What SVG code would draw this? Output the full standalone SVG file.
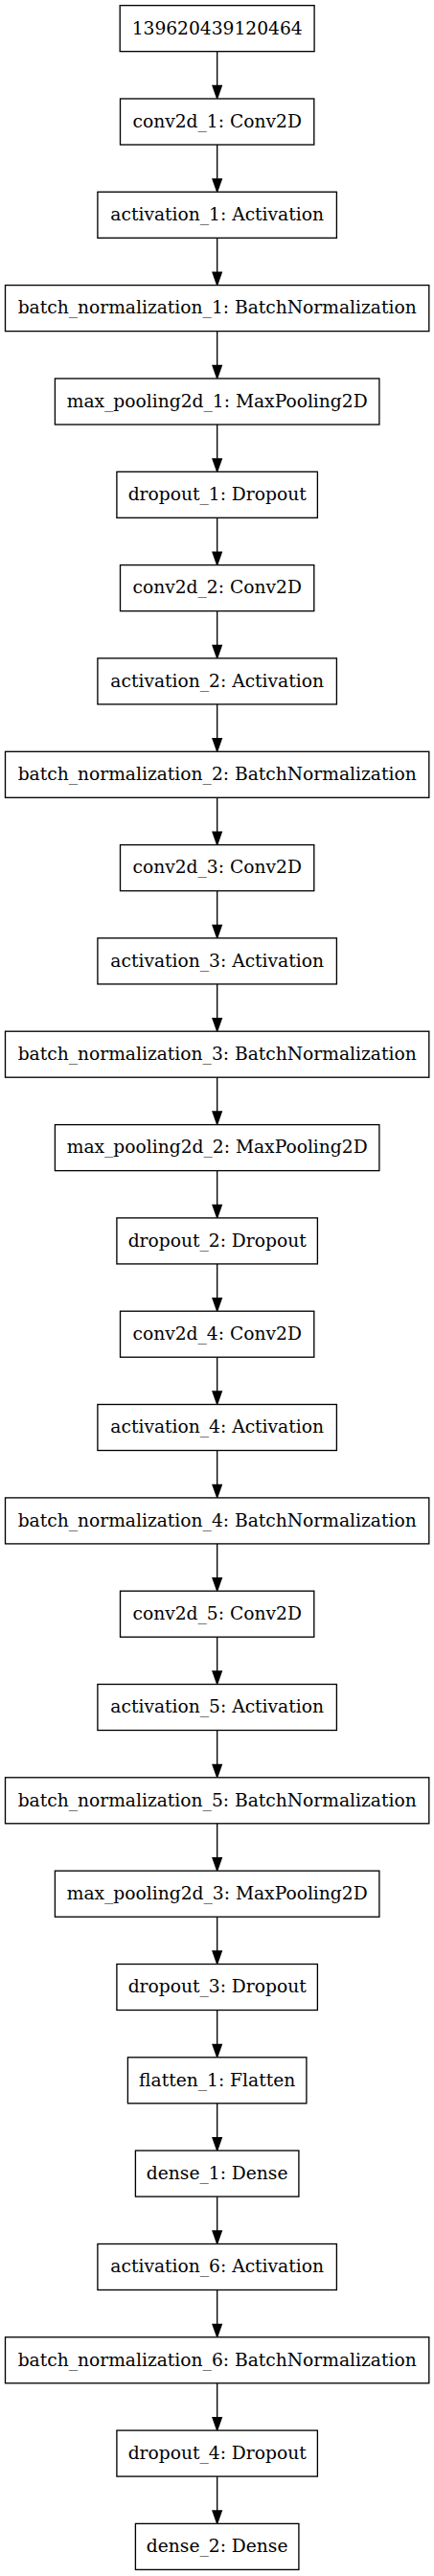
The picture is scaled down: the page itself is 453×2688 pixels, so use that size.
<svg xmlns="http://www.w3.org/2000/svg" width="453" height="2688" viewBox="0 0 453 2688">
<style>
.n rect{fill:#fff;stroke:#000;stroke-width:1.33}
.n text{font-family:"DejaVu Serif",serif;font-size:18.67px;text-anchor:middle;fill:#000}
.e line{stroke:#000;stroke-width:1.33}
.e path{fill:#000;stroke:#000;stroke-width:1.33}
</style>
<rect width="453" height="2688" fill="#fff"/>
<g class="e">
<line x1="226.67" y1="53.67" x2="226.67" y2="89.5"/><path d="M222,89.5 L231.33,89.5 L226.67,102.8 Z"/>
<line x1="226.67" y1="151" x2="226.67" y2="186.8"/><path d="M222,186.8 L231.33,186.8 L226.67,200.1 Z"/>
<line x1="226.67" y1="248.3" x2="226.67" y2="284.1"/><path d="M222,284.1 L231.33,284.1 L226.67,297.4 Z"/>
<line x1="226.67" y1="345.6" x2="226.67" y2="381.4"/><path d="M222,381.4 L231.33,381.4 L226.67,394.7 Z"/>
<line x1="226.67" y1="443" x2="226.67" y2="478.8"/><path d="M222,478.8 L231.33,478.8 L226.67,492.1 Z"/>
<line x1="226.67" y1="540.3" x2="226.67" y2="576.1"/><path d="M222,576.1 L231.33,576.1 L226.67,589.4 Z"/>
<line x1="226.67" y1="637.6" x2="226.67" y2="673.4"/><path d="M222,673.4 L231.33,673.4 L226.67,686.7 Z"/>
<line x1="226.67" y1="734.9" x2="226.67" y2="770.7"/><path d="M222,770.7 L231.33,770.7 L226.67,784 Z"/>
<line x1="226.67" y1="832.3" x2="226.67" y2="868.1"/><path d="M222,868.1 L231.33,868.1 L226.67,881.4 Z"/>
<line x1="226.67" y1="929.6" x2="226.67" y2="965.4"/><path d="M222,965.4 L231.33,965.4 L226.67,978.7 Z"/>
<line x1="226.67" y1="1026.9" x2="226.67" y2="1062.7"/><path d="M222,1062.7 L231.33,1062.7 L226.67,1076 Z"/>
<line x1="226.67" y1="1124.2" x2="226.67" y2="1160"/><path d="M222,1160 L231.33,1160 L226.67,1173.3 Z"/>
<line x1="226.67" y1="1221.6" x2="226.67" y2="1257.4"/><path d="M222,1257.4 L231.33,1257.4 L226.67,1270.7 Z"/>
<line x1="226.67" y1="1318.9" x2="226.67" y2="1354.7"/><path d="M222,1354.7 L231.33,1354.7 L226.67,1368 Z"/>
<line x1="226.67" y1="1416.2" x2="226.67" y2="1452"/><path d="M222,1452 L231.33,1452 L226.67,1465.3 Z"/>
<line x1="226.67" y1="1513.5" x2="226.67" y2="1549.3"/><path d="M222,1549.3 L231.33,1549.3 L226.67,1562.6 Z"/>
<line x1="226.67" y1="1610.9" x2="226.67" y2="1646.7"/><path d="M222,1646.7 L231.33,1646.7 L226.67,1660 Z"/>
<line x1="226.67" y1="1708.2" x2="226.67" y2="1744"/><path d="M222,1744 L231.33,1744 L226.67,1757.3 Z"/>
<line x1="226.67" y1="1805.5" x2="226.67" y2="1841.3"/><path d="M222,1841.3 L231.33,1841.3 L226.67,1854.6 Z"/>
<line x1="226.67" y1="1902.8" x2="226.67" y2="1938.6"/><path d="M222,1938.6 L231.33,1938.6 L226.67,1951.9 Z"/>
<line x1="226.67" y1="2000.2" x2="226.67" y2="2036"/><path d="M222,2036 L231.33,2036 L226.67,2049.3 Z"/>
<line x1="226.67" y1="2097.5" x2="226.67" y2="2133.3"/><path d="M222,2133.3 L231.33,2133.3 L226.67,2146.6 Z"/>
<line x1="226.67" y1="2194.8" x2="226.67" y2="2230.6"/><path d="M222,2230.6 L231.33,2230.6 L226.67,2243.9 Z"/>
<line x1="226.67" y1="2292.1" x2="226.67" y2="2327.9"/><path d="M222,2327.9 L231.33,2327.9 L226.67,2341.2 Z"/>
<line x1="226.67" y1="2389.5" x2="226.67" y2="2425.3"/><path d="M222,2425.3 L231.33,2425.3 L226.67,2438.6 Z"/>
<line x1="226.67" y1="2486.8" x2="226.67" y2="2522.6"/><path d="M222,2522.6 L231.33,2522.6 L226.67,2535.9 Z"/>
<line x1="226.67" y1="2584.1" x2="226.67" y2="2619.9"/><path d="M222,2619.9 L231.33,2619.9 L226.67,2633.2 Z"/>
</g>
<g id="n0" class="n"><rect x="125.2" y="5.67" width="202.9" height="48"/><text x="226.67" y="35.5">139620439120464</text></g>
<g id="n1" class="n"><rect x="125.5" y="103" width="202.3" height="48"/><text x="226.67" y="132.8">conv2d_1: Conv2D</text></g>
<g id="n2" class="n"><rect x="101.9" y="200.3" width="249.5" height="48"/><text x="226.67" y="230.1">activation_1: Activation</text></g>
<g id="n3" class="n"><rect x="5.5" y="297.6" width="442.3" height="48"/><text x="226.67" y="327.4">batch_normalization_1: BatchNormalization</text></g>
<g id="n4" class="n"><rect x="57.4" y="395" width="338.5" height="48"/><text x="226.67" y="424.8">max_pooling2d_1: MaxPooling2D</text></g>
<g id="n5" class="n"><rect x="121.9" y="492.3" width="209.5" height="48"/><text x="226.67" y="522.1">dropout_1: Dropout</text></g>
<g id="n6" class="n"><rect x="125.5" y="589.6" width="202.3" height="48"/><text x="226.67" y="619.4">conv2d_2: Conv2D</text></g>
<g id="n7" class="n"><rect x="101.9" y="686.9" width="249.5" height="48"/><text x="226.67" y="716.7">activation_2: Activation</text></g>
<g id="n8" class="n"><rect x="5.5" y="784.3" width="442.3" height="48"/><text x="226.67" y="814.1">batch_normalization_2: BatchNormalization</text></g>
<g id="n9" class="n"><rect x="125.5" y="881.6" width="202.3" height="48"/><text x="226.67" y="911.4">conv2d_3: Conv2D</text></g>
<g id="n10" class="n"><rect x="101.9" y="978.9" width="249.5" height="48"/><text x="226.67" y="1008.7">activation_3: Activation</text></g>
<g id="n11" class="n"><rect x="5.5" y="1076.2" width="442.3" height="48"/><text x="226.67" y="1106">batch_normalization_3: BatchNormalization</text></g>
<g id="n12" class="n"><rect x="57.4" y="1173.6" width="338.5" height="48"/><text x="226.67" y="1203.4">max_pooling2d_2: MaxPooling2D</text></g>
<g id="n13" class="n"><rect x="121.9" y="1270.9" width="209.5" height="48"/><text x="226.67" y="1300.7">dropout_2: Dropout</text></g>
<g id="n14" class="n"><rect x="125.5" y="1368.2" width="202.3" height="48"/><text x="226.67" y="1398">conv2d_4: Conv2D</text></g>
<g id="n15" class="n"><rect x="101.9" y="1465.5" width="249.5" height="48"/><text x="226.67" y="1495.3">activation_4: Activation</text></g>
<g id="n16" class="n"><rect x="5.5" y="1562.9" width="442.3" height="48"/><text x="226.67" y="1592.7">batch_normalization_4: BatchNormalization</text></g>
<g id="n17" class="n"><rect x="125.5" y="1660.2" width="202.3" height="48"/><text x="226.67" y="1690">conv2d_5: Conv2D</text></g>
<g id="n18" class="n"><rect x="101.9" y="1757.5" width="249.5" height="48"/><text x="226.67" y="1787.3">activation_5: Activation</text></g>
<g id="n19" class="n"><rect x="5.5" y="1854.8" width="442.3" height="48"/><text x="226.67" y="1884.6">batch_normalization_5: BatchNormalization</text></g>
<g id="n20" class="n"><rect x="57.4" y="1952.2" width="338.5" height="48"/><text x="226.67" y="1982">max_pooling2d_3: MaxPooling2D</text></g>
<g id="n21" class="n"><rect x="121.9" y="2049.5" width="209.5" height="48"/><text x="226.67" y="2079.3">dropout_3: Dropout</text></g>
<g id="n22" class="n"><rect x="133.4" y="2146.8" width="186.5" height="48"/><text x="226.67" y="2176.6">flatten_1: Flatten</text></g>
<g id="n23" class="n"><rect x="141.4" y="2244.1" width="170.5" height="48"/><text x="226.67" y="2273.9">dense_1: Dense</text></g>
<g id="n24" class="n"><rect x="101.9" y="2341.5" width="249.5" height="48"/><text x="226.67" y="2371.3">activation_6: Activation</text></g>
<g id="n25" class="n"><rect x="5.5" y="2438.8" width="442.3" height="48"/><text x="226.67" y="2468.6">batch_normalization_6: BatchNormalization</text></g>
<g id="n26" class="n"><rect x="121.9" y="2536.1" width="209.5" height="48"/><text x="226.67" y="2565.9">dropout_4: Dropout</text></g>
<g id="n27" class="n"><rect x="141.4" y="2633.4" width="170.5" height="48"/><text x="226.67" y="2663.2">dense_2: Dense</text></g>
</svg>
